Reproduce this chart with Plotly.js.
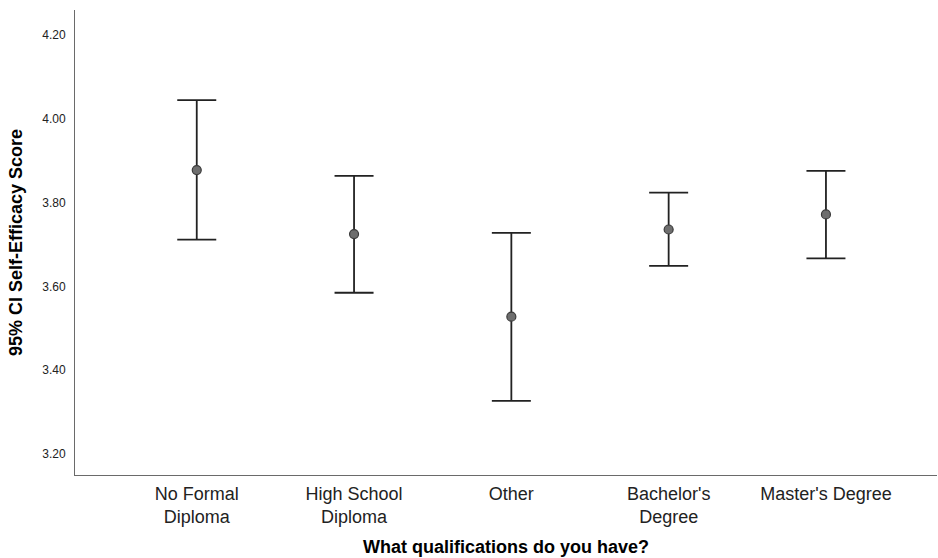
<!DOCTYPE html>
<html>
<head>
<meta charset="utf-8">
<script src="https://cdn.plot.ly/plotly-3.0.1.min.js"></script>
<style>
  html, body { margin: 0; padding: 0; background: #fff; }
  #chart { width: 938px; height: 558px; }
</style>
</head>
<body>
<div id="chart"></div>
<script>
// Qualification groups shown along the x axis
const categories = ["No Formal<br>Diploma", "High School<br>Diploma", "Other", "Bachelor's<br>Degree", "Master's Degree"];
// Mean self-efficacy score per group
const means = [3.878, 3.725, 3.528, 3.736, 3.772];
// 95% confidence interval bounds
const lower = [3.712, 3.585, 3.327, 3.649, 3.667];
const upper = [4.045, 3.864, 3.728, 3.824, 3.876];
// Y axis ticks
const yTicks = [3.2, 3.4, 3.6, 3.8, 4.0, 4.2];

const xIdx = categories.map((_, i) => i);

const trace = {
  type: "scatter",
  mode: "markers",
  x: xIdx,
  y: means,
  marker: { size: 9, color: "#6e6e6e", line: { color: "#3a3a3a", width: 1.2 } },
  error_y: {
    type: "data",
    symmetric: false,
    array: upper.map((u, i) => u - means[i]),
    arrayminus: lower.map((l, i) => means[i] - l),
    color: "#222222",
    thickness: 1.8,
    width: 19.5
  },
  hoverinfo: "y"
};

const font = "Liberation Sans, Arial, sans-serif";

const layout = {
  width: 938,
  height: 558,
  margin: { l: 75, r: 1, t: 10, b: 83 },
  paper_bgcolor: "#ffffff",
  plot_bgcolor: "#ffffff",
  showlegend: false,
  font: { family: font, color: "#000" },
  xaxis: {
    range: [-0.774, 4.706],
    tickmode: "array",
    tickvals: xIdx,
    ticktext: categories,
    showgrid: false,
    zeroline: false,
    showline: true,
    linecolor: "#6a6a6a",
    linewidth: 1,
    ticks: "",
    ticklabelstandoff: 2,
    tickfont: { size: 18, family: font, color: "#222" },
    title: { text: "What qualifications do you have?", font: { size: 18, family: font, color: "#000", weight: "bold" }, standoff: 14 }
  },
  yaxis: {
    range: [3.150, 4.260],
    tickmode: "array",
    tickvals: yTicks,
    ticktext: yTicks.map(v => v.toFixed(2)),
    showgrid: false,
    zeroline: false,
    showline: true,
    linecolor: "#6a6a6a",
    linewidth: 1,
    ticks: "",
    ticklabelstandoff: 6,
    tickfont: { size: 12, family: font, color: "#222" },
    title: { text: "95% CI Self-Efficacy Score", font: { size: 18, family: font, color: "#000", weight: "bold" }, standoff: 14 }
  }
};

Plotly.newPlot("chart", [trace], layout, { displayModeBar: false, staticPlot: true });
</script>
</body>
</html>
